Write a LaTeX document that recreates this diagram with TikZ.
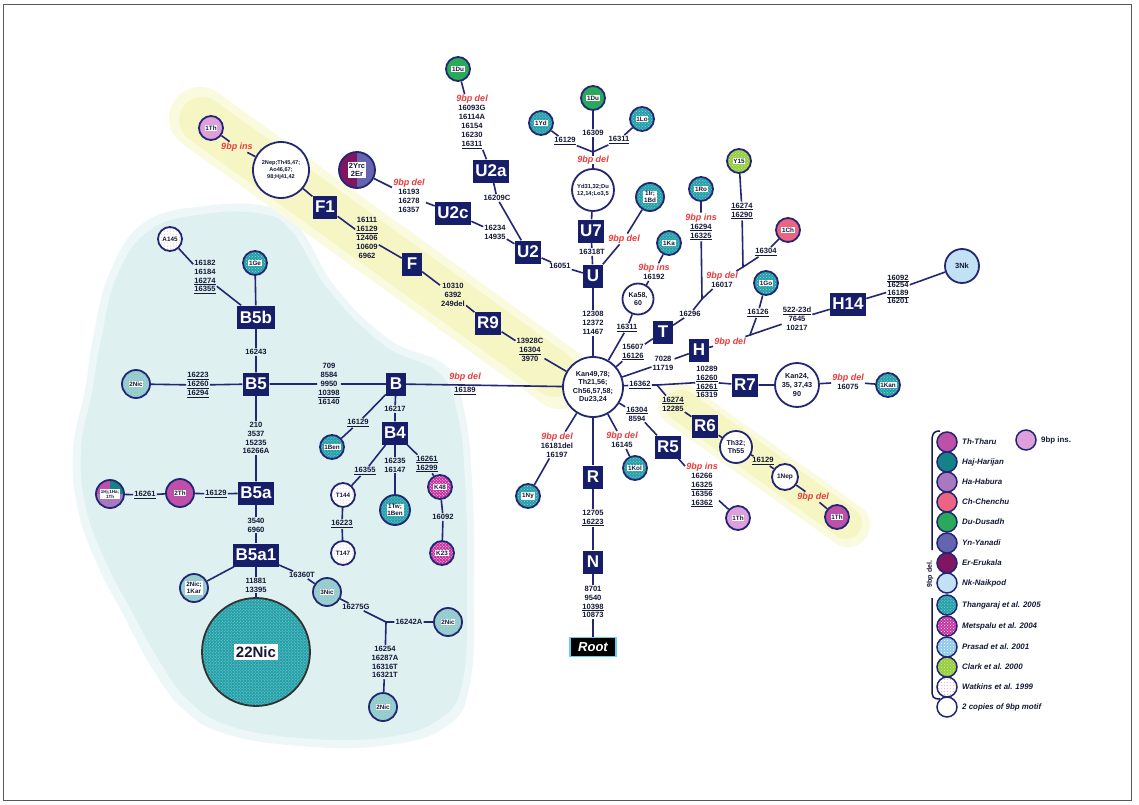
\documentclass[tikz,border=0pt]{standalone}
\usepackage{fontspec}
\setmainfont{Liberation Sans}
\usetikzlibrary{patterns}
\definecolor{navy}{RGB}{35,38,115}
\definecolor{hgfill}{RGB}{22,30,105}
\definecolor{numc}{RGB}{20,25,55}
\definecolor{redt}{RGB}{232,60,60}
\definecolor{thang}{RGB}{35,160,168}
\definecolor{haj}{RGB}{20,130,135}
\definecolor{thc}{RGB}{190,80,170}
\definecolor{thins}{RGB}{222,160,218}
\definecolor{hac}{RGB}{170,120,190}
\definecolor{chc}{RGB}{236,100,130}
\definecolor{duc}{RGB}{40,170,90}
\definecolor{ync}{RGB}{100,100,175}
\definecolor{erc}{RGB}{130,20,100}
\definecolor{nkc}{RGB}{195,225,245}
\definecolor{metc}{RGB}{200,50,160}
\definecolor{prac}{RGB}{150,205,235}
\definecolor{clac}{RGB}{150,205,60}
\definecolor{watc}{RGB}{215,170,220}
\definecolor{blob}{RGB}{222,240,240}
\definecolor{yband}{RGB}{246,246,196}
\newcommand\nf{\fontsize{7.6bp}{8.9bp}\selectfont\bfseries}
\newcommand\ndel{{\color{redt}\fontsize{9bp}{10bp}\selectfont\bfseries\itshape 9bp del}}
\newcommand\nins{{\color{redt}\fontsize{9bp}{10bp}\selectfont\bfseries\itshape 9bp ins}}
\newcommand\uu[1]{\underline{#1}}
\newcommand\popn[4]{\node[pop,#3] (#1) at (#2) {}; \node[ptxt] at (#1) {#4};}
\begin{document}
\begin{tikzpicture}[x=1bp,y=-1bp,
 edge/.style={draw=navy, line width=1.6bp},
 hg/.style={fill=hgfill, text=white, font=\fontsize{17bp}{17bp}\selectfont\bfseries, inner sep=2.5bp, minimum height=23bp, minimum width=20bp},
 rootbox/.style={fill=black, draw=cyan!60!white, line width=1.3bp, text=white, font=\fontsize{13bp}{13bp}\selectfont\bfseries\itshape, inner sep=2bp, minimum width=46bp, minimum height=19bp},
 lab/.style={font=\nf, text=numc, align=center, inner sep=1bp},
 pop/.style={circle, draw=navy, line width=1.8bp, minimum size=24bp, inner sep=0pt},
 ptxt/.style={fill=white, inner sep=0.8bp, font=\fontsize{6.3bp}{6.8bp}\selectfont\bfseries, text=numc, align=center},
 wc/.style={circle, draw=navy, line width=1.8bp, fill=white, inner sep=0pt, align=center, text=numc},
 thg/.style={preaction={fill=thang}, pattern=crosshatch dots, pattern color=white!55!thang},
 met/.style={preaction={fill=metc}, pattern=crosshatch dots, pattern color=white},
 pra/.style={preaction={fill=prac}, pattern=dots, pattern color=white},
 cla/.style={preaction={fill=clac}, pattern=crosshatch dots, pattern color=white!60!clac},
 wat/.style={preaction={fill=white}, pattern=dots, pattern color=watc},
 nic/.style={preaction={fill=prac}, pattern=crosshatch dots, pattern color=clac},
 lg/.style={circle, draw=navy, line width=1.5bp, minimum size=20bp, inner sep=0pt},
 lt/.style={anchor=west, font=\fontsize{7.9bp}{8.5bp}\selectfont\bfseries\itshape, text=numc, inner sep=0pt}
]
\useasboundingbox (0,0) rectangle (1139,805);
\fill[white] (0,0) rectangle (1139,805);
% background blob
\fill[blob!55] plot[smooth cycle, tension=0.7] coordinates {(145,222) (205,206) (265,206) (298,226) (336,288) (390,340) (446,366) (464,410) (472,480) (474,580) (470,684) (444,728) (380,746) (300,746) (226,734) (184,710) (152,668) (122,612) (98,566) (78,510) (73,450) (85,390) (93,338) (110,272)};
\fill[blob] plot[smooth cycle, tension=0.7] coordinates {(150,230) (205,214) (262,214) (292,232) (330,292) (385,346) (438,372) (457,412) (465,480) (467,580) (463,680) (438,720) (380,738) (300,738) (230,726) (190,702) (160,662) (130,608) (106,562) (86,508) (81,450) (92,392) (101,340) (117,276)};
% yellow bands
\draw[yband!55, line width=62bp, line cap=round] (200,118) -- (560,378);
\draw[yband, line width=46bp, line cap=round] (202,120) -- (555,374);
\draw[yband!55, line width=44bp, line cap=round] (680,405) -- (848,525);
\draw[yband, line width=32bp, line cap=round] (682,406) -- (846,523);
% frame
\draw[black!65, line width=1bp] (3,5) rectangle (1131,800);

% haplogroup boxes
\node[hg] (F1) at (325,207) {F1};
\node[hg] (F) at (412,264) {F};
\node[hg] (R9) at (488,323) {R9};
\node[hg] (U2c) at (453,213) {U2c};
\node[hg] (U2a) at (491,171) {U2a};
\node[hg] (U2) at (528,252) {U2};
\node[hg] (U7) at (591,231) {U7};
\node[hg] (U) at (593,276) {U};
\node[hg] (T) at (663,332) {T};
\node[hg] (H) at (699,350) {H};
\node[hg] (H14) at (848,304) {H14};
\node[hg] (R7) at (745,385) {R7};
\node[hg] (R6) at (705,426) {R6};
\node[hg] (R5) at (668,447) {R5};
\node[hg] (R) at (593,477) {R};
\node[hg] (N) at (593,562) {N};
\node[rootbox] (Root) at (593,647) {Root};
\node[hg] (B) at (396,384) {B};
\node[hg] (B4) at (395,433) {B4};
\node[hg] (B5) at (256,384) {B5};
\node[hg] (B5b) at (256,317) {B5b};
\node[hg] (B5a) at (256,493) {B5a};
\node[hg] (B5a1) at (256,555) {B5a1};

% white circles
\node[wc, minimum size=60bp, font=\fontsize{7.2bp}{8.6bp}\selectfont\bfseries] (C) at (593,387) {Kan49,78;\\Th21,56;\\Ch56,57,58;\\Du23,24};
\node[wc, minimum size=56bp, font=\fontsize{5.6bp}{6.6bp}\selectfont\bfseries] (Big2) at (281,170) {2Nep;Th45,47;\\Ao46,67;\\98;Hj41,42};
\node[wc, minimum size=42bp, font=\fontsize{5.8bp}{6.8bp}\selectfont\bfseries] (Yd) at (593,190) {Yd31,32;Du\\12,14;Lo3,5};
\node[wc, minimum size=31bp, font=\fontsize{7bp}{8.4bp}\selectfont\bfseries] (Ka58) at (638,299) {Ka58,\\60};
\node[wc, minimum size=44bp, font=\fontsize{7.3bp}{8.6bp}\selectfont\bfseries] (Kan24) at (797,385) {Kan24,\\35, 37,43\\90};
\node[wc, minimum size=32bp, font=\fontsize{7bp}{8.4bp}\selectfont\bfseries] (Th32) at (736,447) {Th32;\\Th55};
\node[wc, minimum size=26bp, font=\fontsize{6.5bp}{7bp}\selectfont\bfseries] (Nep1) at (785,477) {1Nep};
\node[wc, fill=nkc, minimum size=34bp, font=\fontsize{7.5bp}{8bp}\selectfont\bfseries] (Nk3) at (962,266) {3Nk};

% split circles
\begin{scope}
\clip (357,170) circle (18bp);
\fill[erc] (337,150) rectangle (357,190);
\fill[ync] (357,150) rectangle (377,190);
\end{scope}
\node[pop, minimum size=36bp] (Yrc) at (357,170) {};
\node[ptxt, font=\fontsize{7.5bp}{8.5bp}\selectfont\bfseries] at (Yrc) {2Yrc\\2Er};
\begin{scope}
\clip (110,494) circle (14bp);
\fill[thc] (94,478) rectangle (110,494);
\fill[haj] (110,478) rectangle (126,494);
\fill[hac] (94,494) rectangle (126,510);
\end{scope}
\node[pop, minimum size=28bp] (Tri) at (110,494) {};
\node[ptxt, font=\fontsize{4.5bp}{5bp}\selectfont\bfseries] at (Tri) {1Hj;1Ha;\\1Th};

% population circles
\popn{Du1}{458,69}{fill=duc}{1Du}
\popn{Du2}{593,98}{fill=duc}{1Du}
\popn{Yd1}{541,123}{thg}{1Yd}
\popn{Lo1}{642,119}{thg}{1Lo}
\popn{Ir}{650,197}{thg, minimum size=28bp}{1Ir;\\1Bd}
\popn{Ka1}{669,243}{thg}{1Ka}
\popn{Ro1}{701,189}{thg}{1Ro}
\popn{Y15}{739,161}{cla}{Y15}
\popn{Ch1}{788,230}{fill=chc}{1Ch}
\popn{Go1}{766,283}{thg}{1Go}
\popn{Kan1}{888,385}{thg}{1Kan}
\popn{Th1a}{211,128}{fill=thins}{1Th}
\popn{ThR}{738,518}{fill=thins}{1Th}
\popn{ThE}{837,517}{fill=thc}{1Th}
\popn{Kol1}{635,468}{thg}{1Kol}
\popn{Ny1}{528,496}{thg}{1Ny}
\popn{A145}{170,239}{wat}{A145}
\popn{Ge1}{255,263}{thg}{1Ge}
\popn{Nic2a}{136,384}{nic, minimum size=28bp}{2Nic}
\popn{Ben1}{332,447}{thg}{1Ben}
\popn{T144}{343,495}{wat}{T144}
\popn{T147}{343,553}{wat}{T147}
\popn{TwBen}{395,510}{thg, minimum size=30bp}{1Tw;\\1Ben}
\popn{K48}{440,487}{met}{K48}
\popn{K23}{442,553}{met}{K23}
\popn{Th2}{180,493}{fill=thc, minimum size=28bp}{2Th}
\popn{NicKar}{194,588}{nic, minimum size=28bp}{2Nic;\\1Kar}
\popn{Nic3}{327,592}{nic, minimum size=28bp}{3Nic}
\popn{Nic2b}{448,622}{nic, minimum size=28bp}{2Nic}
\popn{Nic2c}{383,707}{nic, minimum size=28bp}{2Nic}
\node[pop, thg, minimum size=108bp, draw=black!80] (Nic22) at (256,652) {};
\node[ptxt, font=\fontsize{15bp}{15bp}\selectfont\bfseries, inner sep=2bp] at (Nic22) {22Nic};

% junctions
\coordinate (J0) at (593,152);
\coordinate (J1) at (702,299);
\coordinate (J2) at (743,267);
\coordinate (J3) at (750,335);
\coordinate (J5) at (386,622);
\coordinate (J6) at (657,385);

% labels
\node[lab] (lU2a) at (472,122) {\ndel\\16093G\\16114A\\16154\\16230\\\uu{16311}};
\node[lab] (lU2aU2) at (497,198) {16209C};
\node[lab] (lU2c) at (409,196) {\ndel\\16193\\16278\\16357};
\node[lab] (lU2cU2) at (495,232) {16234\\14935};
\node[lab] (lU2U) at (560,266) {16051};
\node[lab] (lU7) at (592,252) {16318T};
\node[lab] (lCU) at (593,323) {12308\\12372\\11467};
\node[lab, inner sep=0pt] (lYd) at (593,160) {\ndel};
\node[lab] (l1Yd) at (565,141) {\uu{16129}};
\node[lab] (l1Du) at (593,133) {16309};
\node[lab] (l1Lo) at (619,140) {\uu{16311}};
\node[lab] (lIr) at (624,239) {\ndel};
\node[lab] (lKa) at (654,272) {\nins\\16192};
\node[lab] (lCKa) at (627,328) {\uu{16311}};
\node[lab] (lCT) at (633,352) {15607\\\uu{16126}};
\node[lab] (lTJ1) at (690,314) {16296};
\node[lab] (lRo) at (701,227) {\nins\\\uu{16294}\\\uu{16325}};
\node[lab] (lJ12) at (722,280) {\ndel\\16017};
\node[lab] (lY15) at (742,211) {\uu{16274}\\\uu{16290}};
\node[lab] (lCh) at (766,252) {\uu{16304}};
\node[lab] (lCH) at (663,363) {7028\\11719};
\node[lab] (lHJ3) at (730,342) {\ndel};
\node[lab] (lGo) at (758,313) {\uu{16126}};
\node[lab] (lH14) at (797,319) {\uu{522-23d}\\7645\\10217};
\node[lab, font=\fontsize{7.6bp}{7.6bp}\selectfont\bfseries] (l3Nk) at (898,289) {\uu{16092}\\16254\\\uu{16189}\\16201};
\node[lab] (lC16362) at (640,385) {\uu{16362}};
\node[lab] (lR7) at (707,382) {10289\\\uu{16260}\\\uu{16261}\\16319};
\node[lab] (lKan) at (848,382) {\ndel\\16075};
\node[lab] (lR6) at (673,404) {\uu{16274}\\12285};
\node[lab] (l1Nep) at (763,461) {\uu{16129}};
\node[lab] (lThE) at (813,497) {\ndel};
\node[lab] (lR5) at (637,414) {\uu{16304}\\8594};
\node[lab] (lR5Th) at (702,485) {\nins\\16266\\\uu{16325}\\16356\\\uu{16362}};
\node[lab] (lKol) at (622,440) {\ndel\\16145};
\node[lab] (lNy) at (557,445) {\ndel\\16181del\\16197};
\node[lab] (lRN) at (593,518) {12705\\\uu{16223}};
\node[lab] (lNRoot) at (593,602) {8701\\9540\\\uu{10398}\\10873};
\node[lab] (lCBa) at (465,377) {\ndel};
\node[lab] (lCBb) at (465,391) {\uu{16189}};
\node[lab] (lBB5) at (329,384) {709\\8584\\9950\\\uu{10398}\\16140};
\node[lab] (lB52Nic) at (198,385) {\uu{16223}\\\uu{16260}\\\uu{16294}};
\node[lab] (lB5b) at (256,352) {16243};
\node[lab] (lA145) at (205,277) {16182\\16184\\\uu{16274}\\\uu{16355}};
\node[lab] (lB5a) at (256,438) {210\\3537\\15235\\16266A};
\node[lab] (l2Th) at (216,494) {\uu{16129}};
\node[lab] (lTri) at (145,495) {\uu{16261}};
\node[lab] (lB5a1) at (256,525) {3540\\6960};
\node[lab] (l22) at (256,585) {11881\\13395};
\node[lab] (l360) at (302,575) {16360T};
\node[lab] (l275) at (356,607) {16275G};
\node[lab] (l242) at (409,622) {16242A};
\node[lab] (l254) at (385,662) {16254\\16287A\\16316T\\16321T};
\node[lab] (lB4) at (395,409) {16217};
\node[lab] (l1Ben) at (358,423) {\uu{16129}};
\node[lab] (lT144) at (365,471) {\uu{16355}};
\node[lab] (lT147) at (342,524) {\uu{16223}};
\node[lab] (lTw) at (395,465) {16235\\16147};
\node[lab] (lK48) at (427,464) {\uu{16261}\\\uu{16299}};
\node[lab] (lK23) at (443,517) {16092};
\node[lab] (lR9C) at (530,350) {13928C\\\uu{16304}\\3970};
\node[lab] (lFR9) at (453,295) {10310\\6392\\249del};
\node[lab] (lF1F) at (367,238) {16111\\\uu{16129}\\12406\\10609\\6962};
\node[lab] (l9ins) at (237,147) {\nins};

% connectors
\draw[edge] (C) -- (lCU) -- (U);
\draw[edge] (U) -- (lU7) -- (U7);
\draw[edge] (U7) -- (Yd);
\draw[edge] (Yd) -- (lYd) -- (J0);
\draw[edge] (J0) -- (l1Yd) -- (Yd1);
\draw[edge] (J0) -- (l1Du) -- (Du2);
\draw[edge] (J0) -- (l1Lo) -- (Lo1);
\draw[edge] (U) -- (lU2U) -- (U2);
\draw[edge] (U2) -- (lU2cU2) -- (U2c);
\draw[edge] (U2) -- (lU2aU2) -- (U2a);
\draw[edge] (U2a) -- (lU2a) -- (Du1);
\draw[edge] (U2c) -- (lU2c) -- (Yrc);
\draw[edge] (U) -- (lIr) -- (Ir);
\draw[edge] (C) -- (lR9C) -- (R9) -- (lFR9) -- (F) -- (lF1F) -- (F1) -- (Big2) -- (l9ins) -- (Th1a);
\draw[edge] (C) -- (B);
\draw[edge] (B) -- (lBB5) -- (B5) -- (lB52Nic) -- (Nic2a);
\draw[edge] (B5) -- (lB5b) -- (B5b) -- (Ge1);
\draw[edge] (B5b) -- (lA145) -- (A145);
\draw[edge] (B5) -- (lB5a) -- (B5a) -- (l2Th) -- (Th2) -- (lTri) -- (Tri);
\draw[edge] (B5a) -- (lB5a1) -- (B5a1) -- (l22) -- (Nic22);
\draw[edge] (B5a1) -- (NicKar);
\draw[edge] (B5a1) -- (l360) -- (Nic3) -- (l275) -- (J5) -- (l242) -- (Nic2b);
\draw[edge] (J5) -- (l254) -- (Nic2c);
\draw[edge] (B) -- (lB4) -- (B4);
\draw[edge] (B) -- (l1Ben) -- (Ben1);
\draw[edge] (B4) -- (lT144) -- (T144) -- (lT147) -- (T147);
\draw[edge] (B4) -- (lTw) -- (TwBen);
\draw[edge] (B4) -- (lK48) -- (K48) -- (lK23) -- (K23);
\draw[edge] (C) -- (R) -- (lRN) -- (N) -- (lNRoot) -- (Root);
\draw[edge] (C) -- (lNy) -- (Ny1);
\draw[edge] (C) -- (lKol) -- (Kol1);
\draw[edge] (C) -- (lR5) -- (R5) -- (lR5Th) -- (ThR);
\draw[edge] (C) -- (lC16362) -- (J6) -- (lR7) -- (R7) -- (Kan24) -- (lKan) -- (Kan1);
\draw[edge] (J6) -- (lR6) -- (R6) -- (Th32) -- (l1Nep) -- (Nep1) -- (lThE) -- (ThE);
\draw[edge] (C) -- (lCH) -- (H) -- (lHJ3) -- (J3) -- (lGo) -- (Go1);
\draw[edge] (J3) -- (lH14) -- (H14) -- (l3Nk) -- (Nk3);
\draw[edge] (C) -- (lCT) -- (T) -- (lTJ1) -- (J1) -- (lRo) -- (Ro1);
\draw[edge] (J1) -- (lJ12) -- (J2) -- (lY15) -- (Y15);
\draw[edge] (J2) -- (lCh) -- (Ch1);
\draw[edge] (C) -- (lCKa) -- (Ka58) -- (lKa) -- (Ka1);

% legend
\draw[navy!70!black, line width=1.5bp] (940,431) .. controls (933,431) and (932,434) .. (932,442) -- (932,550);
\draw[navy!70!black, line width=1.5bp] (932,598) -- (932,690) .. controls (932,697) and (933,699) .. (940,699);
\node[rotate=90, font=\fontsize{7bp}{7bp}\selectfont\bfseries, text=numc, inner sep=0pt] (legdel) at (930,574) {9bp del.};
\node[lg, fill=thc] (lg1) at (947,442) {}; \node[lt] at (962,442) {Th-Tharu};
\node[lg, fill=haj] (lg2) at (947,462) {}; \node[lt] at (962,462) {Haj-Harijan};
\node[lg, fill=hac] (lg3) at (947,482) {}; \node[lt] at (962,482) {Ha-Habura};
\node[lg, fill=chc] (lg4) at (947,502) {}; \node[lt] at (962,502) {Ch-Chenchu};
\node[lg, fill=duc] (lg5) at (947,522) {}; \node[lt] at (962,522) {Du-Dusadh};
\node[lg, fill=ync] (lg6) at (947,543) {}; \node[lt] at (962,543) {Yn-Yanadi};
\node[lg, fill=erc] (lg7) at (947,563) {}; \node[lt] at (962,563) {Er-Erukala};
\node[lg, fill=nkc] (lg8) at (947,583) {}; \node[lt] at (962,583) {Nk-Naikpod};
\node[lg, thg] (lg9) at (947,605) {}; \node[lt] at (962,605) {Thangaraj et al. 2005};
\node[lg, met] (lg10) at (947,626) {}; \node[lt] at (962,626) {Metspalu et al. 2004};
\node[lg, pra] (lg11) at (947,647) {}; \node[lt] at (962,647) {Prasad et al. 2001};
\node[lg, cla] (lg12) at (947,667) {}; \node[lt] at (962,667) {Clark et al. 2000};
\node[lg, wat] (lg13) at (947,687) {}; \node[lt] at (962,687) {Watkins et al. 1999};
\node[lg, fill=white] (lg14) at (947,707) {}; \node[lt] at (962,707) {2 copies of 9bp motif};
\node[lg, fill=thins] (lg15) at (1026,440) {}; \node[lt, font=\fontsize{7.9bp}{8.5bp}\selectfont\bfseries] at (1041,440) {9bp ins.};
\end{tikzpicture}
\end{document}
